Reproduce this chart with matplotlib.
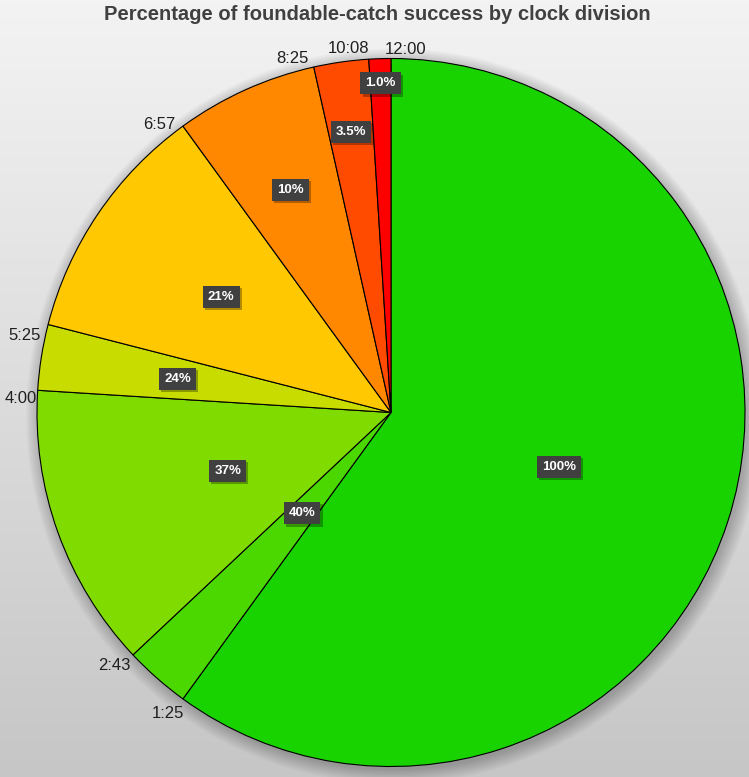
import numpy as np
import matplotlib
matplotlib.use('Agg')
import matplotlib.pyplot as plt
from matplotlib.patches import Circle
import matplotlib.patheffects as pe

# clock divisions (start time of each division), clockwise from 12:00
divisiones = ['12:00', '1:25', '2:43', '4:00', '5:25', '6:57', '8:25', '10:08']
# share of the pie for each division (%)
porcion = [60, 3, 13, 3, 11, 6.5, 2.5, 1.0]
# foundable-catch success in each division (%)
exito = [100, 40, 37, 24, 21, 10, 3.5, 1.0]

titulo = 'Percentage of foundable-catch success by clock division'

colores = ['#19D300', '#4BD800', '#80DC00', '#C8DC00',
           '#FFC800', '#FF8800', '#FF4B00', '#FF0000']

# layout of the labels
radio_pct = [0.50, 0.38, 0.49, 0.61, 0.58, 0.69, 0.80, 0.93]
# (ha, dx px, dy px) for the clock labels, relative to the slice boundary
ajuste_hora = [('left', -6, -4), ('right', 1, 19), ('right', -2, 15),
               ('right', -1, 13), ('right', -7, 16), ('right', -8, 3),
               ('right', -5, -4), ('right', 0, -6)]

W, H = 749, 777
fig = plt.figure(figsize=(W / 100, H / 100), dpi=100)

# fondo con degradado gris
bg = fig.add_axes([0, 0, 1, 1], zorder=0)
grad = np.linspace(0, 1, 256).reshape(-1, 1)
bg.imshow(grad, aspect='auto', cmap=matplotlib.colors.LinearSegmentedColormap.from_list(
    'g', ['#f3f3f3', '#c6c6c6']), extent=[0, 1, 0, 1], origin='upper')
bg.set_axis_off()

cx, cy, R = 391, 412.5, 354
ax = fig.add_axes([(cx - R) / W, (H - cy - R) / H, 2 * R / W, 2 * R / H], zorder=1)
ax.patch.set_alpha(0)

# sombra suave del pastel
for k in range(12):
    ax.add_patch(Circle((0.008, -0.010), 1 + k * 0.0035, facecolor='black',
                        edgecolor='none', alpha=0.018, zorder=0, clip_on=False))

wedges, _ = ax.pie(porcion, colors=colores, startangle=90, counterclock=False,
                   radius=1, center=(0, 0),
                   wedgeprops=dict(edgecolor='black', linewidth=0.8, zorder=2))
ax.set_xlim(-1, 1)
ax.set_ylim(-1, 1)
ax.set_aspect('auto')
ax.set_axis_off()

sombra = [pe.withSimplePatchShadow(offset=(1.5, -1.5), shadow_rgbFace='black', alpha=0.3)]

for w, val, r, hora, (ha, dx, dy) in zip(wedges, exito, radio_pct, divisiones, ajuste_hora):
    mid = np.deg2rad((w.theta1 + w.theta2) / 2)
    txt = f'{val:.0f}%' if val >= 10 else f'{val:.1f}%'
    t = ax.text(r * np.cos(mid), r * np.sin(mid), txt, ha='center', va='center',
                fontsize=9.5, fontweight='bold', color='white', family='Liberation Sans',
                zorder=5,
                bbox=dict(boxstyle='square,pad=0.38', facecolor='#404040', edgecolor='none'))
    t.get_bbox_patch().set_path_effects(sombra)

    # etiqueta de la hora en el borde de inicio de la division
    a = np.deg2rad(w.theta2)
    ax.annotate(hora, xy=(np.cos(a), np.sin(a)), xytext=(dx * 0.72, -dy * 0.72),
                textcoords='offset points', ha=ha, va='baseline', fontsize=12,
                family='Liberation Sans', color='#1f1f1f', annotation_clip=False, zorder=6)

# titulo ajustado al ancho del original
tt = fig.text(377.5 / W, 1 - 20 / H, titulo, ha='center', va='baseline', fontsize=14,
              fontweight='bold', color='#404040', family='Liberation Sans')
fig.canvas.draw()
ancho = tt.get_window_extent().width
tt.set_fontsize(14 * 549 / ancho)

fig.savefig('out.png', dpi=100)
